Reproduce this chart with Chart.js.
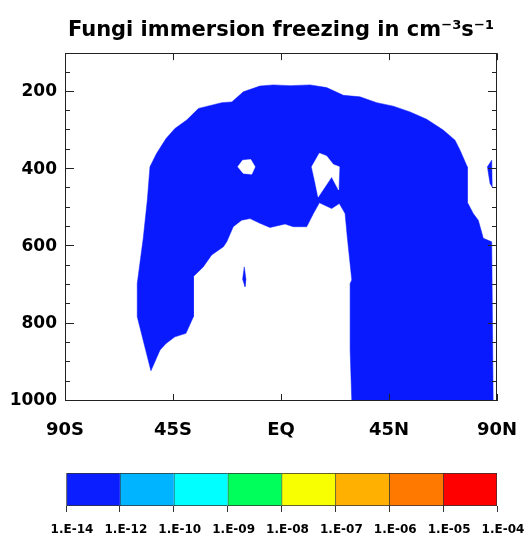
<!DOCTYPE html>
<html>
<head>
<meta charset="utf-8">
<script src="https://cdn.jsdelivr.net/npm/chart.js@4.4.1/dist/chart.umd.min.js"></script>
<style>
  html, body { margin: 0; background: #fff; }
  #wrap { position: relative; width: 524px; height: 539px; }
  #plot { position: absolute; left: 0; top: 0; }
  #bar { position: absolute; left: 0; top: 460px; }
</style>
</head>
<body>
<div id="wrap">
  <canvas id="plot" width="524" height="460"></canvas>
  <canvas id="bar" width="524" height="79"></canvas>
</div>
<script>
const titleText = "Fungi immersion freezing in cm⁻³s⁻¹";

const latTicks = [-90, -45, 0, 45, 90];
const latLabels = ["90S", "45S", "EQ", "45N", "90N"];
const presTicks = [200, 400, 600, 800, 1000];
const presMinor = [150, 250, 300, 350, 450, 500, 550, 650, 700, 750, 850, 900, 950];

const levelLabels = ["1.E-14", "1.E-12", "1.E-10", "1.E-09", "1.E-08", "1.E-07", "1.E-06", "1.E-05", "1.E-04"];
const levelColors = ["#0a1eff", "#00b4ff", "#00ffff", "#00ff5a", "#f8ff00", "#ffb000", "#ff7800", "#ff0000"];

// region above the lowest level, [lat, hPa]
const blueRegion = [
  [-54.2, 922], [-59.9, 782], [-59.9, 696], [-58.8, 644], [-57.4, 579], [-55.7, 480],
  [-54.6, 394], [-51.8, 359], [-47.9, 321], [-44.2, 295], [-39.3, 273], [-34.4, 243],
  [-24.7, 228], [-20.5, 226], [-15.7, 200], [-8.8, 185], [-3.2, 182], [3.8, 184],
  [12.1, 182], [19.0, 189], [26.0, 209], [32.9, 213], [39.9, 228], [46.8, 237],
  [53.8, 252], [60.7, 271], [67.6, 299], [72.5, 325], [74.6, 351], [77.6, 394],
  [77.6, 485], [80.1, 515], [82.2, 532], [84.3, 579], [87.8, 588], [88.4, 1000],
  [29.5, 1000], [28.8, 868], [28.8, 696], [29.5, 687], [27.6, 575], [26.7, 515],
  [24.3, 489], [21.1, 502], [16.0, 487], [13.5, 515], [10.7, 549], [5.1, 549],
  [1.7, 542], [-4.6, 551], [-8.8, 540], [-12.9, 528], [-16.4, 532], [-19.9, 549],
  [-22.6, 588], [-24.0, 601], [-28.9, 622], [-32.4, 653], [-36.5, 678], [-36.5, 782],
  [-39.6, 825], [-44.2, 834], [-47.9, 851], [-50.4, 868]
];
const clearPatches = [
  [[-18.0, 394], [-16.0, 377], [-12.6, 375], [-10.8, 394], [-12.2, 413], [-15.7, 411]],
  [[12.8, 394], [16.0, 359], [19.0, 366], [21.8, 388], [24.3, 394], [24.0, 454],
   [21.1, 420], [15.5, 472], [14.2, 433]]
];
const blueIslands = [
  [[86.0, 394], [87.8, 377], [88.0, 446], [87.1, 437]],
  [[-15.3, 653], [-14.6, 685], [-15.0, 704], [-16.0, 685]]
];

Chart.defaults.font.family = "'DejaVu Sans', sans-serif";
Chart.defaults.font.weight = "bold";
Chart.defaults.color = "#000";
const blue = "#0a1aff";

const shape = (pts, color, order) => ({
  data: pts.concat([pts[0]]).map(([x, y]) => ({ x, y })),
  showLine: true,
  fill: "shape",
  backgroundColor: color,
  borderColor: color,
  borderWidth: 0.5,
  pointRadius: 0,
  tension: 0,
  order,
});

// keep the plot box where the original has it, labels may hang over
const noSidePad = (s) => { s.paddingLeft = 0; s.paddingRight = 0; };

// inward tick marks and the frame, like the original plot
const frame = {
  id: "frame",
  afterDatasetsDraw(chart) {
    const { ctx, chartArea: a, scales: { x, y } } = chart;
    const px = (v) => Math.round(x.getPixelForValue(v)) + 0.5;
    const py = (v) => Math.round(y.getPixelForValue(v)) - 0.5;
    ctx.save();
    ctx.strokeStyle = "#222";
    ctx.lineWidth = 1;
    ctx.beginPath();
    latTicks.forEach((v) => {
      ctx.moveTo(px(v), a.top); ctx.lineTo(px(v), a.top + 7);
      ctx.moveTo(px(v), a.bottom); ctx.lineTo(px(v), a.bottom - 7);
    });
    presTicks.forEach((v) => {
      ctx.moveTo(a.left, py(v)); ctx.lineTo(a.left + 9, py(v));
      ctx.moveTo(a.right, py(v)); ctx.lineTo(a.right - 9, py(v));
    });
    presMinor.forEach((v) => {
      ctx.moveTo(a.left, py(v)); ctx.lineTo(a.left + 5, py(v));
      ctx.moveTo(a.right, py(v)); ctx.lineTo(a.right - 5, py(v));
    });
    ctx.stroke();
    ctx.strokeRect(Math.round(a.left) + 0.5, Math.round(a.top) + 0.5,
      Math.round(a.width) - 1, Math.round(a.height) - 1);
    ctx.restore();
  },
};

new Chart(document.getElementById("plot"), {
  type: "scatter",
  data: {
    datasets: [
      shape(blueRegion, blue, 3),
      ...clearPatches.map((p) => shape(p, "#fff", 2)),
      ...blueIslands.map((p) => shape(p, blue, 1)),
    ],
  },
  options: {
    responsive: false,
    animation: false,
    events: [],
    layout: { padding: { left: 0, right: 27, top: 0, bottom: 0 } },
    plugins: {
      legend: { display: false },
      tooltip: { enabled: false },
      title: {
        display: true,
        text: titleText,
        fullSize: false,
        color: "#000",
        font: { size: 21, weight: "bold" },
        padding: { top: 18, bottom: 10 },
      },
    },
    scales: {
      x: {
        type: "linear",
        min: -90,
        max: 90,
        afterBuildTicks: (s) => { s.ticks = latTicks.map((v) => ({ value: v })); },
        afterFit: (s) => { s.height = 59; noSidePad(s); },
        grid: { display: false, drawTicks: false },
        border: { display: false },
        ticks: { padding: 19, font: { size: 18 }, callback: (v, i) => latLabels[i] },
      },
      y: {
        type: "linear",
        reverse: true,
        min: 100,
        max: 1000,
        afterBuildTicks: (s) => { s.ticks = presTicks.map((v) => ({ value: v })); },
        afterFit: (s) => { s.width = 65; },
        grid: { display: false, drawTicks: false },
        border: { display: false },
        ticks: { padding: 8, font: { size: 17 }, callback: (v) => String(v) },
      },
    },
  },
  plugins: [frame],
});

new Chart(document.getElementById("bar"), {
  type: "bar",
  data: {
    labels: [""],
    datasets: levelColors.map((c, i) => ({
      data: [[i, i + 1]],
      backgroundColor: c,
      borderColor: "#333",
      borderWidth: { top: 1, bottom: 1, left: 1, right: i === levelColors.length - 1 ? 1 : 0 },
      borderSkipped: false,
      grouped: false,
      barPercentage: 1,
      categoryPercentage: 1,
    })),
  },
  options: {
    indexAxis: "y",
    responsive: false,
    animation: false,
    events: [],
    layout: { padding: { left: 66, right: 27, top: 13, bottom: 0 } },
    plugins: { legend: { display: false }, tooltip: { enabled: false } },
    scales: {
      y: { display: false },
      x: {
        type: "linear",
        min: 0,
        max: levelLabels.length - 1,
        afterBuildTicks: (s) => { s.ticks = levelLabels.map((_, i) => ({ value: i })); },
        afterFit: (s) => { s.height = 33; noSidePad(s); },
        grid: { drawOnChartArea: false, tickLength: 6, color: "#333" },
        border: { display: false },
        ticks: { padding: 11, labelOffset: 6, font: { size: 12 }, callback: (v, i) => levelLabels[i] },
      },
    },
  },
});
</script>
</body>
</html>
